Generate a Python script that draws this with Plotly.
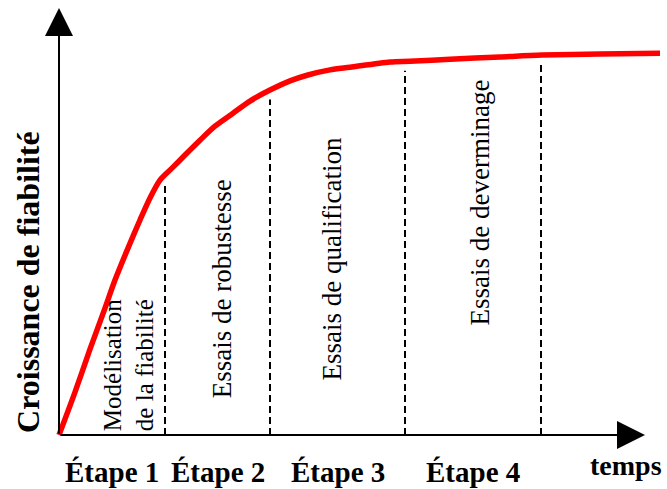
import numpy as np
import plotly.graph_objects as go

# Reliability growth curve (arbitrary units)
temps = [0, 0.16, 0.31, 0.46, 0.56, 0.69, 0.81, 0.91, 1.01, 1.14, 1.26, 1.41,
         1.56, 1.74, 1.91, 2.11, 2.31, 2.48, 2.71, 2.91, 3.31, 3.51, 3.91,
         4.41, 4.83, 5.41, 6.01]
fiabilite = [0, 0.113, 0.226, 0.334, 0.408, 0.492, 0.566, 0.624, 0.671, 0.705,
             0.737, 0.776, 0.813, 0.847, 0.879, 0.908, 0.932, 0.947, 0.961,
             0.968, 0.982, 0.984, 0.989, 0.995, 1.0, 1.003, 1.005]

# Stage boundaries (time) and labels
limites_etapes = [1.06, 2.11, 3.46, 4.82]
etapes = ["Étape 1", "Étape 2", "Étape 3", "Étape 4"]
activites = ["Modélisation<br>de la fiabilité", "Essais de robustesse",
             "Essais de qualification", "Essais de deverminage"]

FONT = "Liberation Serif"
x_tip = 5.86
y_tip = 1.124

fig = go.Figure()

# dashed stage separators, from axis up to just below the curve
for b in limites_etapes:
    top = float(np.interp(b, temps, fiabilite)) - 0.025
    fig.add_trace(go.Scatter(x=[b, b], y=[0, top], mode="lines",
                             line=dict(color="black", width=2, dash="7px,4px"),
                             hoverinfo="skip"))

# red curve
fig.add_trace(go.Scatter(x=temps, y=fiabilite, mode="lines",
                         line=dict(color="#ff0000", width=5.5, shape="spline", smoothing=0.8),
                         hoverinfo="skip"))

ann = []
# axes with arrows
ann.append(dict(x=0, y=y_tip, ax=0, ay=0, xref="x", yref="y", axref="x", ayref="y",
                text="", showarrow=True, arrowhead=2, arrowsize=2.8, arrowwidth=2,
                arrowcolor="black", standoff=0, startstandoff=0))
ann.append(dict(x=x_tip, y=0, ax=0, ay=0, xref="x", yref="y", axref="x", ayref="y",
                text="", showarrow=True, arrowhead=2, arrowsize=2.8, arrowwidth=2,
                arrowcolor="black", standoff=0, startstandoff=0))

# stage labels at bottom (centred on each stage)
bounds = [0] + limites_etapes
for i, lab in enumerate(etapes):
    xc = (bounds[i] + bounds[i + 1]) / 2
    ann.append(dict(x=xc, y=-0.097, xref="x", yref="y", text="<b>" + lab + "</b>",
                    showarrow=False, font=dict(family=FONT, size=29, color="black"),
                    xanchor="center", yanchor="middle"))

# rotated activity labels
act_pos = [(0.70, 0.005, "bottom"), (1.63, 0.384, "middle"),
           (2.73, 0.462, "middle"), (4.21, 0.612, "middle")]
act_size = [25, 27, 27, 27]
for (xp, yp, ya), txt, sz in zip(act_pos, activites, act_size):
    ann.append(dict(x=xp, y=yp, xref="x", yref="y", text=txt, textangle=-90,
                    showarrow=False, align="left",
                    font=dict(family=FONT, size=sz, color="black"),
                    xanchor="center", yanchor=ya))

# axis titles
ann.append(dict(x=-0.31, y=0.403, xref="x", yref="y", text="<b>Croissance de fiabilité</b>",
                textangle=-90, showarrow=False,
                font=dict(family=FONT, size=32, color="black"),
                xanchor="center", yanchor="middle"))
ann.append(dict(x=6.05, y=-0.079, xref="x", yref="y", text="<b>temps</b>",
                showarrow=False, font=dict(family=FONT, size=28, color="black"),
                xanchor="right", yanchor="middle"))

fig.update_layout(
    width=667, height=489,
    margin=dict(l=0, r=0, t=0, b=0),
    paper_bgcolor="white", plot_bgcolor="white",
    showlegend=False,
    xaxis=dict(range=[-0.59, 6.08], visible=False, fixedrange=True),
    yaxis=dict(range=[-0.142, 1.145], visible=False, fixedrange=True),
    annotations=ann,
)

fig.write_html("out.html", config={"displayModeBar": False},
               post_script="document.body.style.margin='0px';document.body.style.overflow='hidden';")
